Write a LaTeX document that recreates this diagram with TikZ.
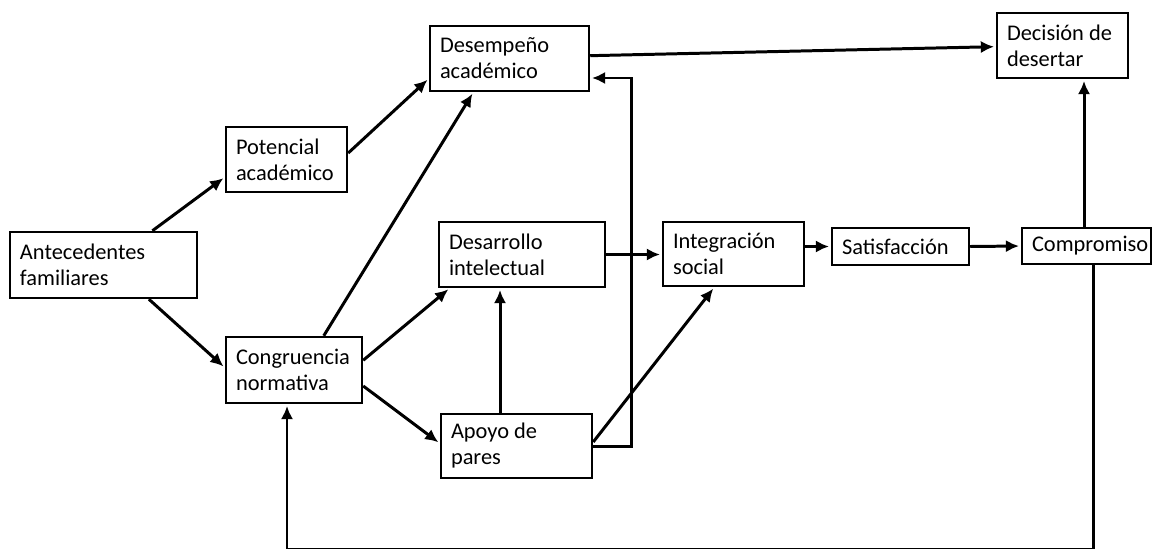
\documentclass[tikz,border=0pt]{standalone}
\usepackage{fontspec}
\setmainfont{Carlito}
\usetikzlibrary{arrows.meta}
\hyphenpenalty=10000
\exhyphenpenalty=10000

\begin{document}
\begin{tikzpicture}
[x=0.02cm, y=-0.02cm,
 lineDecorate/.style={-{Latex[length=7.5pt,width=7pt]},line width=1.7pt,shorten >=1pt},
 nodeDecorate/.style={shape=rectangle,draw,line width=1.4pt,inner xsep=0.2cm,inner ysep=0pt,align=flush left,font=\fontsize{12.75}{14.8}\selectfont}]

\useasboundingbox (0,0) rectangle (1153,548);

 \foreach \nodename/\x/\y/\w/\h/\txt in {A/103.5/265/187/66/{Antecedentes\\familiares},
P/286.5/159.5/121/65/{Potencial\\académico},
D/509.5/58.5/159/65/{Desempeño\\académico},
C/294/370/136/66/{Congruencia\\normativa},
Dv/522/254.5/166/65/{Desarrollo\\intelectual},
Ap/516.5/446/151/64/{Apoyo de\\pares},
I/733.5/254/141/64/{Integración\\social},
S/900.5/246.5/137/37/{Satisfacción},
Cm/1086.5/246/129/36/{Compromiso},
De/1062.5/45.5/131/65/{Decisión de\\desertar}}
 {
          \pgfmathsetmacro\mw{\w*0.02}
          \pgfmathsetmacro\mh{\h*0.02}
          \pgfmathsetmacro\tw{(\w-20)*0.02}
          \node (\nodename) at (\x,\y) [nodeDecorate, minimum width=\mw cm, minimum height=\mh cm, text width=\tw cm] {\txt};
 }

\path
\foreach \startnode/\endnode in {A.35/P.196,A.-37/C.178,P.6/D.194,C.49/D.223,C.8/Dv.205,C.-13/Ap.178,Ap.3/I.240,D.2/De.181,S.east/Cm.west}
        {
          (\startnode) edge[lineDecorate] (\endnode)
        };

\draw[lineDecorate] ([xshift=-0.33cm]Ap.north) -- ([xshift=-0.33cm]Ap.north |- Dv.south);
\draw[lineDecorate] (Dv.east) -- (Dv.east -| I.west);
\draw[lineDecorate] (I.east |- S.west) -- (S.west);
\draw[lineDecorate] ([xshift=-0.05cm]Cm.north) -- ([xshift=-0.05cm]Cm.north |- De.south);
\draw[lineDecorate] (Ap.east) -| ([shift={(0.82cm,-0.39cm)}]D.east) -- ([yshift=-0.39cm]D.east);
\draw[lineDecorate] ([xshift=0.13cm]Cm.south) -- ++(0,284.6) -| ([xshift=-0.14cm]C.south);

\end{tikzpicture}
\end{document}
